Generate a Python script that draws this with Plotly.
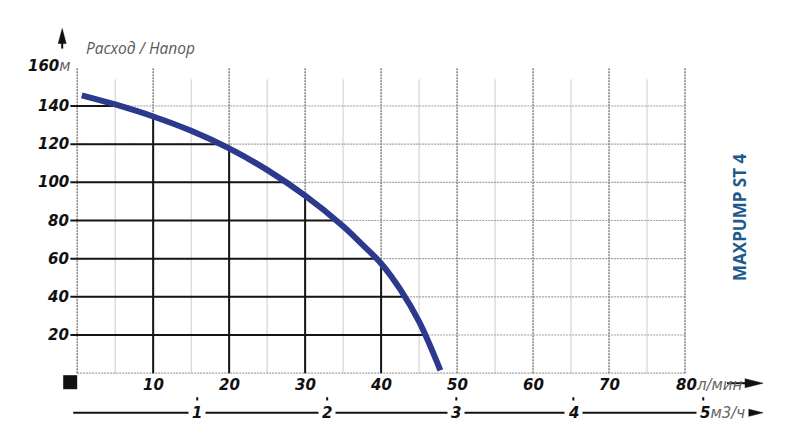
import numpy as np
import plotly.graph_objects as go

# ---- data ----
flow_lmin = [0.6, 5, 10, 15, 20, 25, 30, 35, 37.5, 40, 42.5, 45, 47.8]
head_m = [145.6, 140.8, 134.5, 127, 117.8, 106.5, 93, 77, 67.5, 57.5, 44, 27, 1.5]
x_ticks = [10, 20, 30, 40, 50, 60, 70, 80]
x_minor = [5, 15, 25, 35, 45, 55, 65, 75]
y_ticks = [20, 40, 60, 80, 100, 120, 140]
y_top = 160
minor_top = 154
m3h_labels = [1, 2, 3, 4, 5]
m3h_pos_lmin = [15.8, 32.9, 49.9, 65.3, 82.4]
title = "MAXPUMP ST 4"
axis_title = "Расход / Напор"

# ---- layout geometry ----
W, H = 800, 446
X0, X1 = -2, 90
Y0, Y1 = -2, 162
SX, SY = 7.6, 1.905
OX, OY = 77, 373
L = OX + X0 * SX
R = W - (OX + X1 * SX)
T = OY - Y1 * SY
B = H - (OY - Y0 * SY)


def px(x):
    return (x - L) / (W - L - R)


def py(y):
    return (H - B - y) / (H - T - B)


x_max = x_ticks[-1]
fx = np.array(flow_lmin)
hy = np.array(head_m)

fig = go.Figure()


def seg_trace(segs, color, width, dash="solid"):
    xs, ys = [], []
    for (a, b, c, d) in segs:
        xs += [a, c, None]
        ys += [b, d, None]
    fig.add_trace(go.Scatter(x=xs, y=ys, mode="lines", hoverinfo="skip",
                             line=dict(color=color, width=width, dash=dash),
                             showlegend=False))


# minor verticals (light solid)
seg_trace([(v, 0, v, minor_top) for v in x_minor], "#cccccc", 1)
# horizontal dotted grid
seg_trace([(0, v, x_max, v) for v in y_ticks] + [(0, 0, x_max, 0)], "#a0a0a0", 1.2, "2px,1px")
# major vertical dotted
seg_trace([(v, 0, v, y_top) for v in [0] + x_ticks], "#808080", 1.5, "2px,1px")

# black solid lines below the curve
blk = []
for v in y_ticks:
    xe = float(np.interp(v, hy[::-1], fx[::-1]))
    blk.append((-0.9, v, xe, v))
for v in x_ticks:
    if v < fx[-1]:
        ye = float(np.interp(v, fx, hy))
        blk.append((v, 0, v, ye))
seg_trace(blk, "#151515", 2)

# pump curve
fig.add_trace(go.Scatter(x=flow_lmin, y=head_m, mode="lines", hoverinfo="skip",
                         line=dict(color="#2c3a8e", width=6, shape="spline", smoothing=1.0),
                         showlegend=False))

FONT = "DejaVu Sans"
ann = []
for v in y_ticks:
    ann.append(dict(xref="paper", yref="y", x=px(71), y=v, xanchor="right", yanchor="middle",
                    text=f"<b><i>{v}</i></b>", showarrow=False,
                    font=dict(family=FONT, size=15, color="#111")))
ann.append(dict(xref="paper", yref="y", x=px(73), y=y_top + 1, xanchor="right", yanchor="middle",
                text=f"<b><i>{y_top}</i></b><span style='color:#666'><i>м</i></span>", showarrow=False,
                font=dict(family=FONT, size=15, color="#111")))
for v in x_ticks[:-1]:
    ann.append(dict(xref="x", yref="paper", x=v, y=py(385), xanchor="center", yanchor="middle",
                    text=f"<b><i>{v}</i></b>", showarrow=False,
                    font=dict(family=FONT, size=15, color="#111")))
ann.append(dict(xref="x", yref="paper", x=x_ticks[-1], y=py(385), xanchor="left", yanchor="middle",
                xshift=-11, text=f"<b><i>{x_ticks[-1]}</i></b><span style='color:#666'><i>л/мин</i></span>",
                showarrow=False, font=dict(family=FONT, size=15, color="#111")))
for lab, pos in zip(m3h_labels[:-1], m3h_pos_lmin[:-1]):
    ann.append(dict(xref="x", yref="paper", x=pos, y=py(413), xanchor="center", yanchor="middle",
                    text=f"<b><i>{lab}</i></b>", showarrow=False, bgcolor="white", borderpad=3,
                    font=dict(family=FONT, size=15, color="#111")))
ann.append(dict(xref="x", yref="paper", x=m3h_pos_lmin[-1], y=py(413), xanchor="left", yanchor="middle",
                xshift=-7, text=f"<b><i>{m3h_labels[-1]}</i></b><span style='color:#666'><i>м3/ч</i></span>",
                showarrow=False, bgcolor="white", borderpad=3,
                font=dict(family=FONT, size=15, color="#111")))
ann.append(dict(xref="paper", yref="paper", x=px(84), y=py(48), xanchor="left", yanchor="middle",
                text=f"<i>{axis_title}</i>", showarrow=False,
                font=dict(family="Open Sans", size=15.5, color="#5a5a5a")))
ann.append(dict(xref="paper", yref="paper", x=px(740), y=py(218), xanchor="center", yanchor="middle",
                text=f"<b>{title}</b>", textangle=-90, showarrow=False,
                font=dict(family="Open Sans", size=17, color="#1d5a8c")))

shapes = []
# m3/h axis line
shapes.append(dict(type="line", xref="paper", yref="paper", x0=px(73), x1=px(748),
                   y0=py(412.5), y1=py(412.5), line=dict(color="#111", width=2), layer="below"))
for pos in m3h_pos_lmin:
    shapes.append(dict(type="line", xref="x", yref="paper", x0=pos, x1=pos,
                       y0=py(397), y1=py(402), line=dict(color="#111", width=2)))
# arrows
for yy, xs in [(383, 727), (412.5, 735)]:
    shapes.append(dict(type="line", xref="paper", yref="paper", x0=px(xs), x1=px(750),
                       y0=py(yy), y1=py(yy), line=dict(color="#111", width=2)))
    shapes.append(dict(type="path", xref="paper", yref="paper",
                       path=f"M {px(745)} {py(yy-4.5)} L {px(763)} {py(yy)} L {px(745)} {py(yy+4.5)} Z",
                       fillcolor="#111", line=dict(color="#111", width=0.5)))
shapes.append(dict(type="line", xref="paper", yref="paper", x0=px(62), x1=px(62),
                   y0=py(40), y1=py(49), line=dict(color="#111", width=2)))
shapes.append(dict(type="path", xref="paper", yref="paper",
                   path=f"M {px(58)} {py(44)} L {px(62)} {py(29)} L {px(66)} {py(44)} Z",
                   fillcolor="#111", line=dict(color="#111", width=0.5)))
shapes.append(dict(type="rect", xref="paper", yref="paper", x0=px(63), x1=px(77),
                   y0=py(389), y1=py(375), fillcolor="#111", line=dict(width=0)))

fig.update_layout(
    width=W, height=H,
    margin=dict(l=L, r=R, t=T, b=B, pad=0),
    paper_bgcolor="white", plot_bgcolor="white",
    xaxis=dict(range=[X0, X1], visible=False, fixedrange=True),
    yaxis=dict(range=[Y0, Y1], visible=False, fixedrange=True),
    annotations=ann, shapes=shapes, showlegend=False,
)

fig.write_html("out.html", config={"displayModeBar": False},
               post_script="document.body.style.margin='0';document.body.style.overflow='hidden';")
